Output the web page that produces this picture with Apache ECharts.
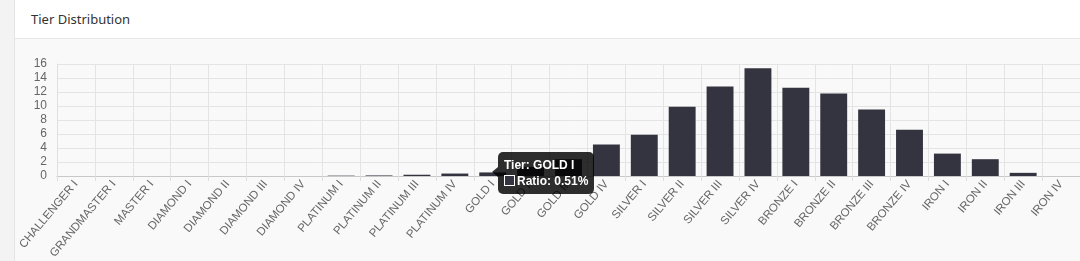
<!DOCTYPE html>
<html>
<head>
<meta charset="utf-8">
<script src="https://cdn.jsdelivr.net/npm/echarts@6/dist/echarts.min.js"></script>
<style>
  html, body { margin: 0; padding: 0; width: 1080px; height: 261px; overflow: hidden; background: #f3f3f3; font-family: "Noto Sans", Arial, sans-serif; }
  #card { position: absolute; left: 14px; top: 0; width: 1066px; height: 261px; border-left: 1px solid #e4e4e4; background: #fff; }
  #head { height: 38px; border-bottom: 1px solid #e6e6e6; background: #fff; }
  #head span { position: absolute; left: 16px; top: 10px; font-size: 13px; color: #333; }
  #body { position: absolute; left: 0; top: 39px; width: 1066px; height: 222px; background: #f9f9f9; }
</style>
</head>
<body>
<div id="card">
  <div id="head"><span>Tier Distribution</span></div>
  <div id="body"></div>
</div>
<div id="chart" style="position:absolute;left:0;top:0;width:1080px;height:261px;"></div>
<script>
const categories = [
  "CHALLENGER I", "GRANDMASTER I", "MASTER I",
  "DIAMOND I", "DIAMOND II", "DIAMOND III", "DIAMOND IV",
  "PLATINUM I", "PLATINUM II", "PLATINUM III", "PLATINUM IV",
  "GOLD I", "GOLD II", "GOLD III", "GOLD IV",
  "SILVER I", "SILVER II", "SILVER III", "SILVER IV",
  "BRONZE I", "BRONZE II", "BRONZE III", "BRONZE IV",
  "IRON I", "IRON II", "IRON III", "IRON IV"
];
const ratios = [
  0, 0, 0,
  0, 0, 0, 0,
  0.05, 0.08, 0.18, 0.35,
  0.51, 1.3, 2.4, 4.5,
  5.9, 9.9, 12.8, 15.4,
  12.6, 11.8, 9.5, 6.6,
  3.2, 2.4, 0.45, 0
];
const yTicks = { min: 0, max: 16, interval: 2 };
const tipIndex = 11;

const barColor = '#33343f';
const chart = echarts.init(document.getElementById('chart'), null, { renderer: 'canvas' });
chart.setOption({
  animation: false,
  grid: { left: 57, right: 0, top: 64, bottom: 85, containLabel: false, outerBoundsMode: 'none' },
  tooltip: {
    trigger: 'item',
    alwaysShowContent: true,
    transitionDuration: 0,
    backgroundColor: 'rgba(0,0,0,0.82)',
    borderWidth: 0,
    borderRadius: 5,
    padding: [5, 6, 5, 6],
    extraCssText: 'box-shadow:none;overflow:visible;',
    position: [498, 152],
    formatter: function (p) {
      return '<div style="position:relative;font-family:Arial,\'Liberation Sans\',sans-serif;font-size:12px;font-weight:bold;color:#fff;line-height:16px;">' +
        '<span style="position:absolute;left:-12px;top:10px;width:0;height:0;border-top:5px solid transparent;border-bottom:5px solid transparent;border-right:6px solid rgba(0,0,0,0.82);"></span>' +
        'Tier: ' + p.name + '<br/>' +
        '<span style="display:inline-block;width:9px;height:9px;border:1px solid #fff;background:' + barColor + ';vertical-align:-1px;margin-right:2px;"></span>' +
        'Ratio: ' + p.value.toFixed(2) + '%</div>';
    }
  },
  xAxis: {
    type: 'category',
    data: categories,
    boundaryGap: true,
    axisLine: { show: true, lineStyle: { color: '#c8c8c8', width: 1 } },
    axisTick: { show: true, length: 5, lineStyle: { color: '#dedede' } },
    splitLine: { show: true, lineStyle: { color: '#e4e4e4', width: 1 } },
    axisLabel: {
      interval: 0, rotate: 50, margin: 6, hideOverlap: false,
      fontFamily: 'Arial, "Liberation Sans", sans-serif', fontSize: 11.5, color: '#666'
    }
  },
  yAxis: {
    type: 'value',
    min: yTicks.min, max: yTicks.max, interval: yTicks.interval,
    axisLine: { show: true, lineStyle: { color: '#e0e0e0' } },
    axisTick: { show: false },
    splitLine: { show: true, lineStyle: { color: '#e4e4e4', width: 1 } },
    axisLabel: {
      margin: 10,
      fontFamily: 'Arial, "Liberation Sans", sans-serif', fontSize: 12, color: '#666'
    }
  },
  series: [{
    type: 'bar',
    data: ratios,
    barCategoryGap: '29%',
    itemStyle: { color: barColor },
    emphasis: { disabled: true }
  }]
});
chart.dispatchAction({ type: 'showTip', seriesIndex: 0, dataIndex: tipIndex });
</script>
</body>
</html>
